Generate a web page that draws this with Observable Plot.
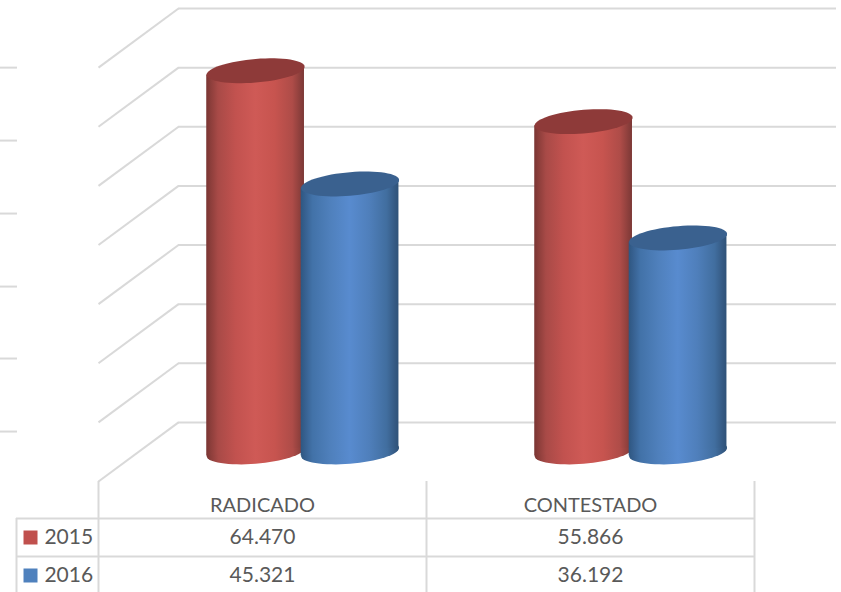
<!DOCTYPE html>
<html>
<head>
<meta charset="utf-8">
<script src="https://cdn.jsdelivr.net/npm/d3@7"></script>
<script src="https://cdn.jsdelivr.net/npm/@observablehq/plot@0.6"></script>
<style>
  html, body { margin: 0; padding: 0; background: #fff; }
  svg { display: block; }
</style>
</head>
<body>
<div id="chart"></div>
<script>
const categories = ["RADICADO", "CONTESTADO"];
const years = ["2015", "2016"];
const values2015 = [64470, 55866];
const values2016 = [45321, 36192];
const labels2015 = ["64.470", "55.866"];
const labels2016 = ["45.321", "36.192"];
const wallLevels = [0, 10000, 20000, 30000, 40000, 50000, 60000, 70000];
const stubLevels = [70000, 57660, 45320, 32970, 20800, 8450];

const GRID = "#d9d9d9";
const TEXT = "#595959";
const FONT = "Lato, 'Open Sans', sans-serif";
const depthX = 0.244, depthY = 10000;
const halfW = 0.149, tilt = 700;
const A = 49, B = 11.8, T = 4;

// Sheared ellipse used for the cylinder caps
const capSymbol = {
  draw(ctx) {
    const n = 64;
    for (let i = 0; i <= n; i++) {
      const t = (i / n) * 2 * Math.PI;
      const px = A * Math.cos(t);
      const py = -T * Math.cos(t) + B * Math.sin(t);
      if (i === 0) ctx.moveTo(px, py); else ctx.lineTo(px, py);
    }
    ctx.closePath();
  }
};

function gradient(id, stops) {
  const g = d3.create("svg:linearGradient").attr("id", id)
    .attr("x1", 0).attr("x2", 1).attr("y1", 0).attr("y2", 0);
  stops.forEach(([o, c]) => g.append("stop").attr("offset", o).attr("stop-color", c));
  return g.node();
}

const defsMark = () => {
  const defs = d3.create("svg:defs");
  defs.append(() => gradient("cylRed", [[0, "#7a3533"], [0.04, "#8a3d3a"], [0.12, "#a84a47"], [0.3, "#c2524f"], [0.5, "#cf5a56"], [0.7, "#c7544f"], [0.88, "#ae4c48"], [0.96, "#8c3f3c"], [1, "#7c3836"]]));
  defs.append(() => gradient("cylBlue", [[0, "#2e5781"], [0.04, "#365f8e"], [0.12, "#4272a8"], [0.3, "#4f80bc"], [0.5, "#588bcf"], [0.7, "#4f7fbb"], [0.88, "#416e9f"], [0.96, "#355a84"], [1, "#2f5278"]]));
  return defs.node();
};

function cylinders(values, offset, body, cap) {
  const rows = values.map((v, i) => ({ x: i + offset, top: v + depthY / 2, base: depthY / 2 }));
  const edges = rows.flatMap((r, i) => [
    { c: i, x: r.x - halfW, y1: r.base - tilt, y2: r.top - tilt },
    { c: i, x: r.x + halfW, y1: r.base + tilt, y2: r.top + tilt }
  ]);
  return [
    Plot.dot(rows, { x: "x", y: "base", r: 10, symbol: capSymbol, fill: body, stroke: "none" }),
    Plot.areaY(edges, { x: "x", y1: "y1", y2: "y2", z: "c", fill: body, stroke: "none" }),
    Plot.dot(rows, { x: "x", y: "top", r: 10, symbol: capSymbol, fill: cap, stroke: "none" })
  ];
}

const textOpts = { fontSize: 21, fill: TEXT, fontFamily: FONT, lineAnchor: "middle" };
const lineOpts = { stroke: GRID, strokeWidth: 2 };

const plot = Plot.plot({
  width: 841,
  height: 592,
  margin: 0,
  style: { background: "#fff", fontFamily: FONT },
  x: { domain: [0, 2], range: [98, 754], axis: null },
  y: { domain: [0, 80000], range: [481, 8], axis: null },
  marks: [
    defsMark,
    // back wall
    Plot.ruleY(wallLevels, { y: (d) => d + depthY, x1: depthX, x2: 2 + depthX + 0.006, ...lineOpts }),
    // side wall / floor diagonals
    Plot.link(wallLevels, { x1: 0, x2: depthX, y1: (d) => d, y2: (d) => d + depthY, ...lineOpts }),
    // stub ticks at the far left
    Plot.ruleY(stubLevels, { y: (d) => d, x1: -0.2988, x2: -0.247, ...lineOpts }),
    // cylinders
    ...cylinders(values2015, 0.479, "url(#cylRed)", "#8e3a39"),
    ...cylinders(values2016, 0.767, "url(#cylBlue)", "#3a618f"),
    // data table grid
    Plot.ruleX([0, 1, 2], { x: (d) => d, y1: 0, y2: -18800, ...lineOpts }),
    Plot.ruleX([-0.25], { x: (d) => d, y1: -6260, y2: -18800, ...lineOpts }),
    Plot.ruleY([-6260, -12680], { y: (d) => d, x1: -0.25, x2: 2, ...lineOpts }),
    // data table text
    Plot.text(categories, { x: (d, i) => i + 0.5, y: 0, dy: 24, text: (d) => d, ...textOpts, fontSize: 20 }),
    Plot.text(labels2015, { x: (d, i) => i + 0.5, y: 0, dy: 56, text: (d) => d, ...textOpts }),
    Plot.text(labels2016, { x: (d, i) => i + 0.5, y: 0, dy: 94, text: (d) => d, ...textOpts }),
    // legend keys inside the table
    Plot.dot(years, { x: -0.2073, y: 0, dy: 56, r: 7.9, symbol: "square", fill: "#c0504d", stroke: "none", filter: (d, i) => i === 0 }),
    Plot.dot(years, { x: -0.2073, y: 0, dy: 94, r: 7.9, symbol: "square", fill: "#4f81bd", stroke: "none", filter: (d, i) => i === 1 }),
    Plot.text(years, { x: -0.165, y: 0, dy: 56, text: (d) => d, textAnchor: "start", ...textOpts, filter: (d, i) => i === 0 }),
    Plot.text(years, { x: -0.165, y: 0, dy: 94, text: (d) => d, textAnchor: "start", ...textOpts, filter: (d, i) => i === 1 })
  ]
});
document.getElementById("chart").append(plot);
</script>
</body>
</html>
